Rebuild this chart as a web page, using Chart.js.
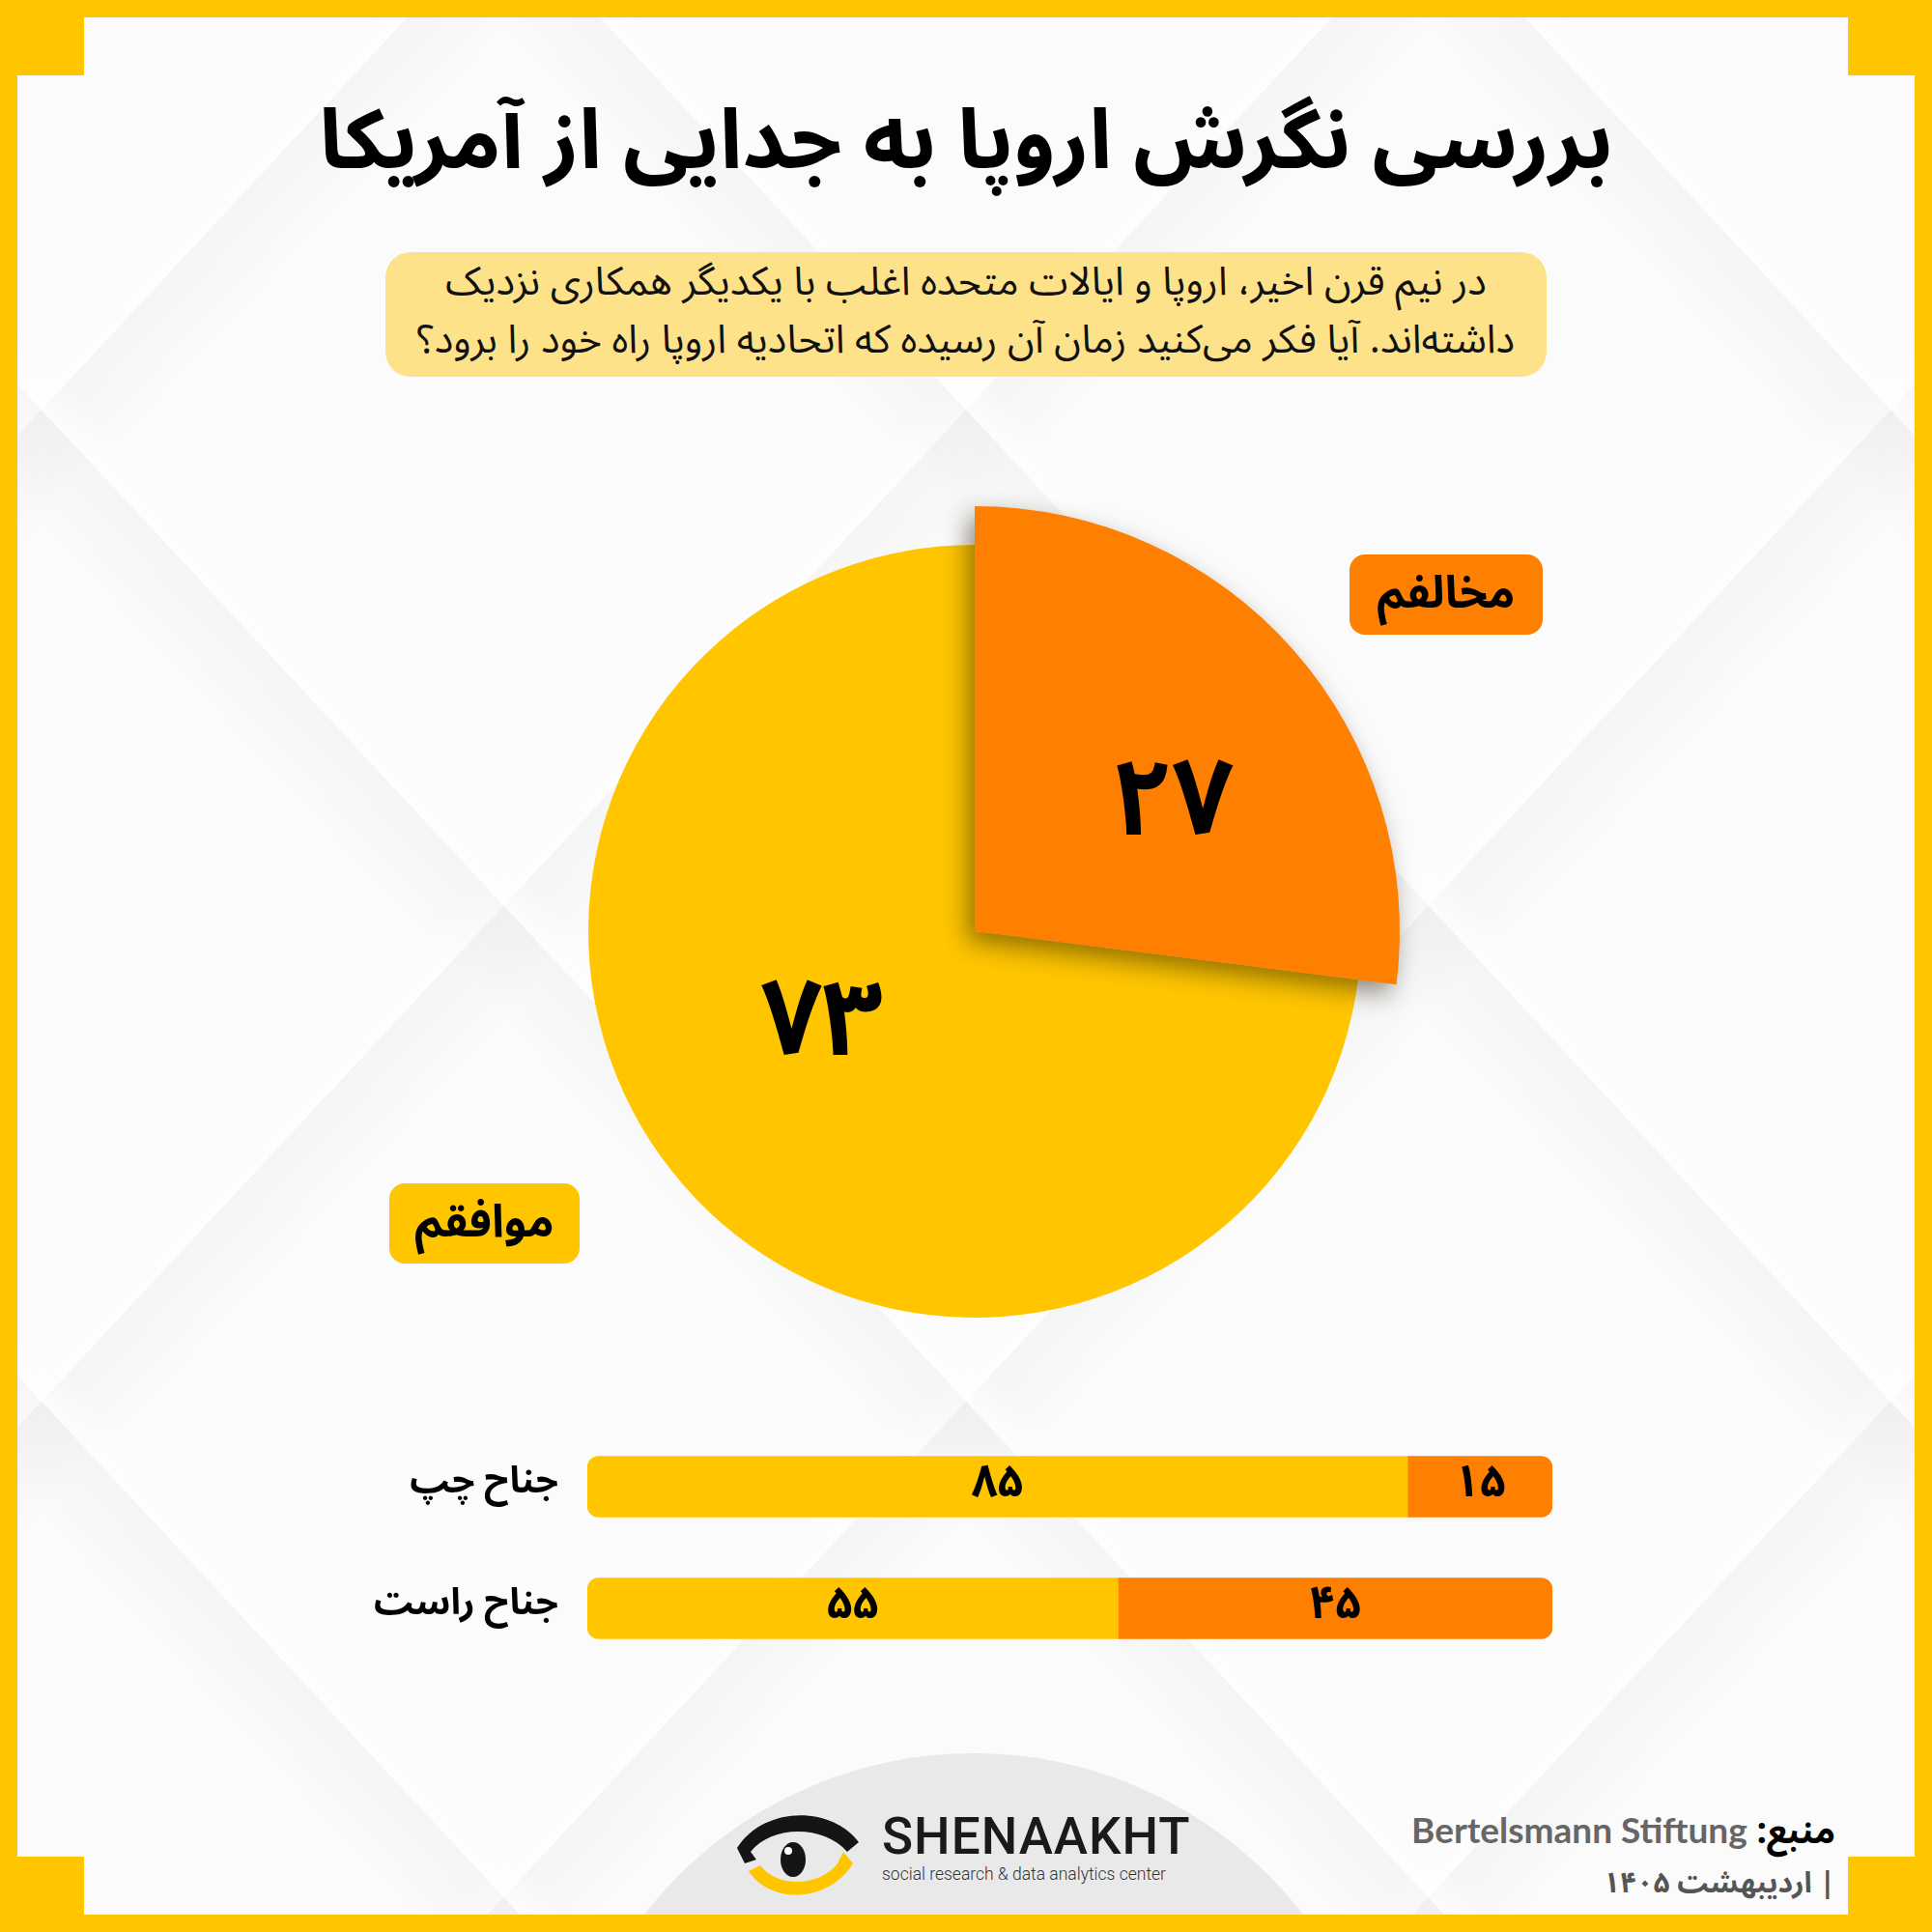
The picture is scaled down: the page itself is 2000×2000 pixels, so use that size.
<!DOCTYPE html>
<html lang="fa">
<head>
<meta charset="utf-8">
<script src="https://cdn.jsdelivr.net/npm/chart.js@4"></script>
<style>
  body { margin: 0; }
  #page { position: relative; width: 2000px; height: 2000px; background: #ffc600; overflow: hidden; }
  #inner {
    position: absolute; left: 18px; top: 18px; width: 1964px; height: 1964px; overflow: hidden;
    background-color: #fbfbfb;
    background-image:
      repeating-linear-gradient(47deg, rgba(0,0,0,0) 0 300px, rgba(0,0,0,0.012) 330px, rgba(0,0,0,0.022) 380px, rgba(255,255,255,0.7) 381px, rgba(0,0,0,0) 420px 700px),
      repeating-linear-gradient(-47deg, rgba(0,0,0,0) 0 300px, rgba(0,0,0,0.012) 330px, rgba(0,0,0,0.022) 380px, rgba(255,255,255,0.7) 381px, rgba(0,0,0,0) 420px 700px);
  }
  .corner { position: absolute; width: 87px; height: 78px; background: #ffc600; }
  .fa { font-family: 'Noto Sans Arabic', 'DejaVu Sans', sans-serif; direction: rtl; }
  #title { position: absolute; left: 0; width: 2000px; top: 56px; text-align: center; font-size: 86px; font-weight: bold; color: #000; }
  #subbox { position: absolute; left: 399px; top: 261px; width: 1202px; height: 129px; background: #fde28a; border-radius: 26px; }
  #subtitle { position: absolute; left: 399px; top: 262px; width: 1202px; text-align: center; font-size: 41px; line-height: 60px; color: #111; }
  .tag { position: absolute; height: 83px; border-radius: 16px; text-align: center; font-size: 47px; font-weight: bold; line-height: 80px; color: #000; }
  #circle { position: absolute; left: 558px; top: 1797px; width: 864px; height: 864px; border-radius: 50%; background: #e9e9e9; }
  #brand { position: absolute; left: 913px; top: 1874px; font-family: Roboto, sans-serif; font-weight: 500; font-size: 53px; letter-spacing: 1px; color: #1a1a1a; line-height: 55px; }
  #brandsub { position: absolute; left: 913px; top: 1930px; font-family: Roboto, sans-serif; font-weight: 300; font-size: 17.5px; color: #333; }
  #source { position: absolute; right: 100px; top: 1857px; font-size: 37px; color: #666; font-weight: bold; }
  #date { position: absolute; right: 100px; top: 1918px; font-size: 30px; color: #555; font-weight: bold; }
</style>
</head>
<body>
<div id="page">
  <div id="inner">
    <div id="circle"></div>
  </div>
  <div class="corner" style="left:0;top:0"></div>
  <div class="corner" style="right:0;top:0"></div>
  <div class="corner" style="left:0;bottom:0"></div>
  <div class="corner" style="right:0;bottom:0"></div>

  <div id="title" class="fa">بررسی نگرش اروپا به جدایی از آمریکا</div>
  <div id="subbox"></div>
  <div id="subtitle" class="fa">در نیم قرن اخیر، اروپا و ایالات متحده اغلب با یکدیگر همکاری نزدیک<br>داشته‌اند. آیا فکر می‌کنید زمان آن رسیده که اتحادیه اروپا راه خود را برود؟</div>

  <div style="position:absolute;left:399px;top:464px;width:1220px;height:1000px;">
    <canvas id="pie"></canvas>
  </div>
  <div id="tagNo" class="tag fa" style="left:1397px;top:574px;width:200px;background:#ff7f00;"></div>
  <div id="tagYes" class="tag fa" style="left:403px;top:1225px;width:197px;background:#ffc600;"></div>

  <canvas id="bars" width="1299" height="252" style="position:absolute;left:308px;top:1476px;"></canvas>

  <svg style="position:absolute;left:761px;top:1867px" width="130" height="96" viewBox="0 0 130 96">
    <path d="M2 46 C 30 2, 100 2, 128 40 L 116 50 C 92 22, 38 22, 16 50 L 22 58 L 10 62 Z" fill="#151515"/>
    <path d="M14 70 C 36 104, 96 104, 122 62 L 112 50 L 106 62 C 88 86, 44 88, 26 64 Z" fill="#ffc600"/>
    <ellipse cx="60" cy="58" rx="13" ry="18" fill="#151515"/>
    <circle cx="55" cy="49" r="4" fill="#fff"/>
  </svg>
  <div id="brand">SHENAAKHT</div>
  <div id="brandsub">social research &amp; data analytics center</div>

  <div id="source" class="fa"><span style="color:#000">منبع:</span> <span style="font-family:Lato, sans-serif;direction:ltr;unicode-bidi:embed">Bertelsmann Stiftung</span></div>
  <div id="date" class="fa">| اردیبهشت ۱۴۰۵</div>
</div>

<script>
// overall answer
const pieLabels = ['موافقم', 'مخالفم'];
const pieValues = [73, 27];

// by political wing
const groupLabels = ['جناح چپ', 'جناح راست'];
const agreeValues = [85, 55];
const disagreeValues = [15, 45];

const YELLOW = '#ffc600';
const ORANGE = '#ff7f00';
const faFont = "'Noto Sans Arabic', 'DejaVu Sans', sans-serif";

function toFa(n) {
    return String(n).replace(/\d/g, d => '۰۱۲۳۴۵۶۷۸۹'[d]);
}

document.getElementById('tagYes').textContent = pieLabels[0];
document.getElementById('tagNo').textContent = pieLabels[1];

Chart.defaults.devicePixelRatio = 1;
Chart.defaults.animation = false;

// yellow slice is drawn smaller, orange one gets a drop shadow
const pieStyle = {
    id: 'pieStyle',
    beforeDatasetsDraw(chart) {
        const meta = chart.getDatasetMeta(0);
        const small = meta.data[0], big = meta.data[1];
        small.outerRadius = big.outerRadius * 400 / 440;
        if (!big._shadowed) {
            const orig = big.draw;
            big.draw = function(ctx, area) {
                ctx.save();
                ctx.shadowColor = 'rgba(40,30,0,0.5)';
                ctx.shadowBlur = 26;
                ctx.shadowOffsetX = -7;
                ctx.shadowOffsetY = 10;
                orig.call(this, ctx, area);
                ctx.restore();
            };
            big._shadowed = true;
        }
    },
    afterDatasetsDraw(chart, args, opts) {
        const ctx = chart.ctx;
        const meta = chart.getDatasetMeta(0);
        ctx.save();
        ctx.font = 'bold 110px ' + faFont;
        ctx.fillStyle = '#000';
        ctx.textAlign = 'center';
        ctx.textBaseline = 'middle';
        meta.data.forEach((el, i) => {
            const mid = (el.startAngle + el.endAngle) / 2;
            const r = el.outerRadius * 0.56;
            const off = opts.offsets[i];
            ctx.fillText(toFa(chart.data.datasets[0].data[i]),
                el.x + Math.cos(mid) * r + off[0], el.y + Math.sin(mid) * r + off[1]);
        });
        ctx.restore();
    }
};

new Chart(document.getElementById('pie'), {
    type: 'pie',
    data: {
        labels: pieLabels,
        datasets: [{
            data: pieValues,
            backgroundColor: [YELLOW, ORANGE],
            borderWidth: 0
        }]
    },
    options: {
        responsive: true,
        maintainAspectRatio: false,
        rotation: pieValues[1] / (pieValues[0] + pieValues[1]) * 360,
        layout: { padding: 60 },
        plugins: {
            legend: { display: false },
            tooltip: { enabled: false },
            pieStyle: { offsets: [[10, -38], [20, 45]] }
        }
    },
    plugins: [pieStyle]
});

const barValues = {
    id: 'barValues',
    afterDatasetsDraw(chart) {
        const ctx = chart.ctx;
        ctx.save();
        ctx.font = 'bold 47px ' + faFont;
        ctx.fillStyle = '#000';
        ctx.textAlign = 'center';
        ctx.textBaseline = 'middle';
        chart.data.datasets.forEach((ds, di) => {
            chart.getDatasetMeta(di).data.forEach((el, i) => {
                const p = el.getCenterPoint();
                ctx.fillText(toFa(ds.data[i]), p.x, p.y + 3);
            });
        });
        ctx.restore();
    }
};

new Chart(document.getElementById('bars'), {
    type: 'bar',
    data: {
        labels: groupLabels,
        datasets: [
            { label: pieLabels[0], data: agreeValues, backgroundColor: YELLOW, barThickness: 63,
              borderRadius: { topLeft: 12, bottomLeft: 12, topRight: 0, bottomRight: 0 }, borderSkipped: false },
            { label: pieLabels[1], data: disagreeValues, backgroundColor: ORANGE, barThickness: 63,
              borderRadius: { topLeft: 0, bottomLeft: 0, topRight: 12, bottomRight: 12 }, borderSkipped: false }
        ]
    },
    options: {
        indexAxis: 'y',
        responsive: false,
        layout: { padding: 0 },
        scales: {
            x: { stacked: true, min: 0, max: 100, display: false },
            y: {
                stacked: true,
                grid: { display: false },
                border: { display: false },
                afterFit(scale) {
                    scale.width = 300;
                    scale.paddingTop = 0;
                    scale.paddingBottom = 0;
                },
                ticks: { padding: 22, color: '#000', font: { family: faFont, size: 38, weight: 'bold' } }
            }
        },
        plugins: { legend: { display: false }, tooltip: { enabled: false } }
    },
    plugins: [barValues]
});
</script>
</body>
</html>
